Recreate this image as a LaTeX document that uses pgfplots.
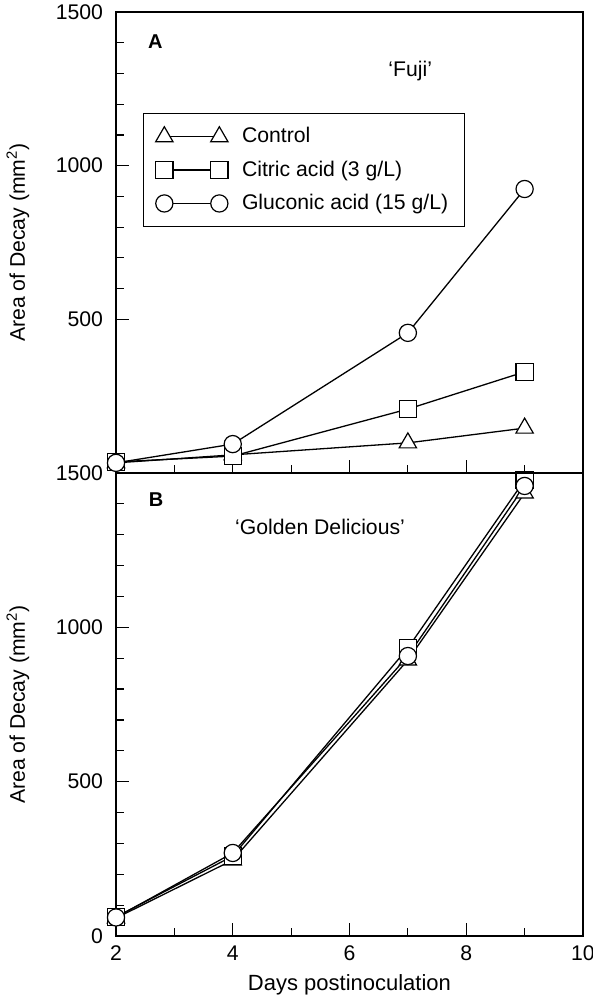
\documentclass[border=0pt]{standalone}
\usepackage{pgfplots}
\pgfplotsset{compat=1.18}
\usepackage{fontspec}
\setmainfont{Liberation Sans}

\pgfplotsset{
  decay/.style={
    scale only axis,
    width=233.5pt,
    xmin=2, xmax=10,
    xtick={2,4,6,8,10},
    minor x tick num=1,
    minor y tick num=4,
    xtick pos=bottom, ytick pos=left,
    tick align=inside,
    major tick length=6.5pt, minor tick length=4pt,
    every tick/.style={black, line width=0.6pt},
    axis line style={line width=0.75pt},
    font=\fontsize{10.6}{12.5}\selectfont,
    /pgf/number format/assume math mode=true,
    /pgf/number format/1000 sep={},
    yticklabel style={xshift=-3pt},
    xticklabel style={yshift=-1.5pt},
    ylabel={Area of Decay (mm\textsuperscript{2})},
    ylabel style={at={(axis description cs:-0.21,0.5)}, anchor=center},
    every axis plot/.append style={black, line width=0.65pt, mark size=4.3pt,
      mark options={fill=white, solid, line width=0.6pt}},
    error bars/y dir=both, error bars/y explicit,
    error bars/error mark=none,
    error bars/error bar style={line width=0.6pt},
  },
  ctl/.style={mark=triangle*, mark size=5pt},
  cit/.style={mark=square*},
  glu/.style={mark=*},
}

\begin{document}
\begin{tikzpicture}
\path[use as bounding box] (-58pt,-32pt) rectangle (238.5pt,468pt);

% panel B
\begin{axis}[decay,
  at={(0,0)}, anchor=south west,
  height=231.5pt,
  ymin=0, ymax=1500,
  ytick={0,500,1000,1500},
  xlabel={Days postinoculation},
  xlabel style={at={(axis description cs:0.5,0)}, anchor=center, yshift=-24.5pt,
    font=\fontsize{11}{13}\selectfont},
]
\addplot[ctl] coordinates {(2,58) +- (0,10) (4,246) +- (0,10) (7,894) +- (0,10) (9,1435) +- (0,10)};
\addplot[cit] coordinates {(2,62) +- (0,52) (4,259) +- (0,10) (7,933) +- (0,10) (9,1477) +- (0,42)};
\addplot[glu] coordinates {(2,60) +- (0,10) (4,269) +- (0,10) (7,907) +- (0,10) (9,1458) +- (0,10)};
\node[font=\bfseries\fontsize{10}{12}\selectfont] at (axis description cs:0.086,0.942) {B};
\node at (axis description cs:0.437,0.883) {‘Golden Delicious’};
\end{axis}

% panel A
\begin{axis}[decay,
  at={(0,231.5pt)}, anchor=south west,
  height=230.5pt,
  ymin=0, ymax=1500,
  ytick={500,1000,1500},
  xticklabels={},
  legend style={at={(axis description cs:0.058,0.781)}, anchor=north west,
    draw=black, line width=0.6pt, inner xsep=6pt, inner ysep=5pt,
    row sep=3.5pt, font=\fontsize{10.6}{12.5}\selectfont,
    /tikz/every odd column/.append style={column sep=5pt}},
  legend cell align=left,
  legend image code/.code={\draw plot coordinates {(0pt,0pt) (27.5pt,0pt)};},
]
\addplot[ctl] coordinates {(2,33) +- (0,5) (4,59) +- (0,25) (7,98) +- (0,5) (9,146) +- (0,5)};
\addplot[cit] coordinates {(2,36) +- (0,5) (4,55) +- (0,5) (7,208) +- (0,5) (9,329) +- (0,5)};
\addplot[glu] coordinates {(2,33) +- (0,5) (4,94) +- (0,5) (7,456) +- (0,5) (9,924) +- (0,5)};
\legend{Control, Citric acid (3 g/L), Gluconic acid (15 g/L)}
\node[font=\bfseries\fontsize{10}{12}\selectfont] at (axis description cs:0.084,0.935) {A};
\node at (axis description cs:0.63,0.872) {‘Fuji’};
\end{axis}
\end{tikzpicture}
\end{document}
